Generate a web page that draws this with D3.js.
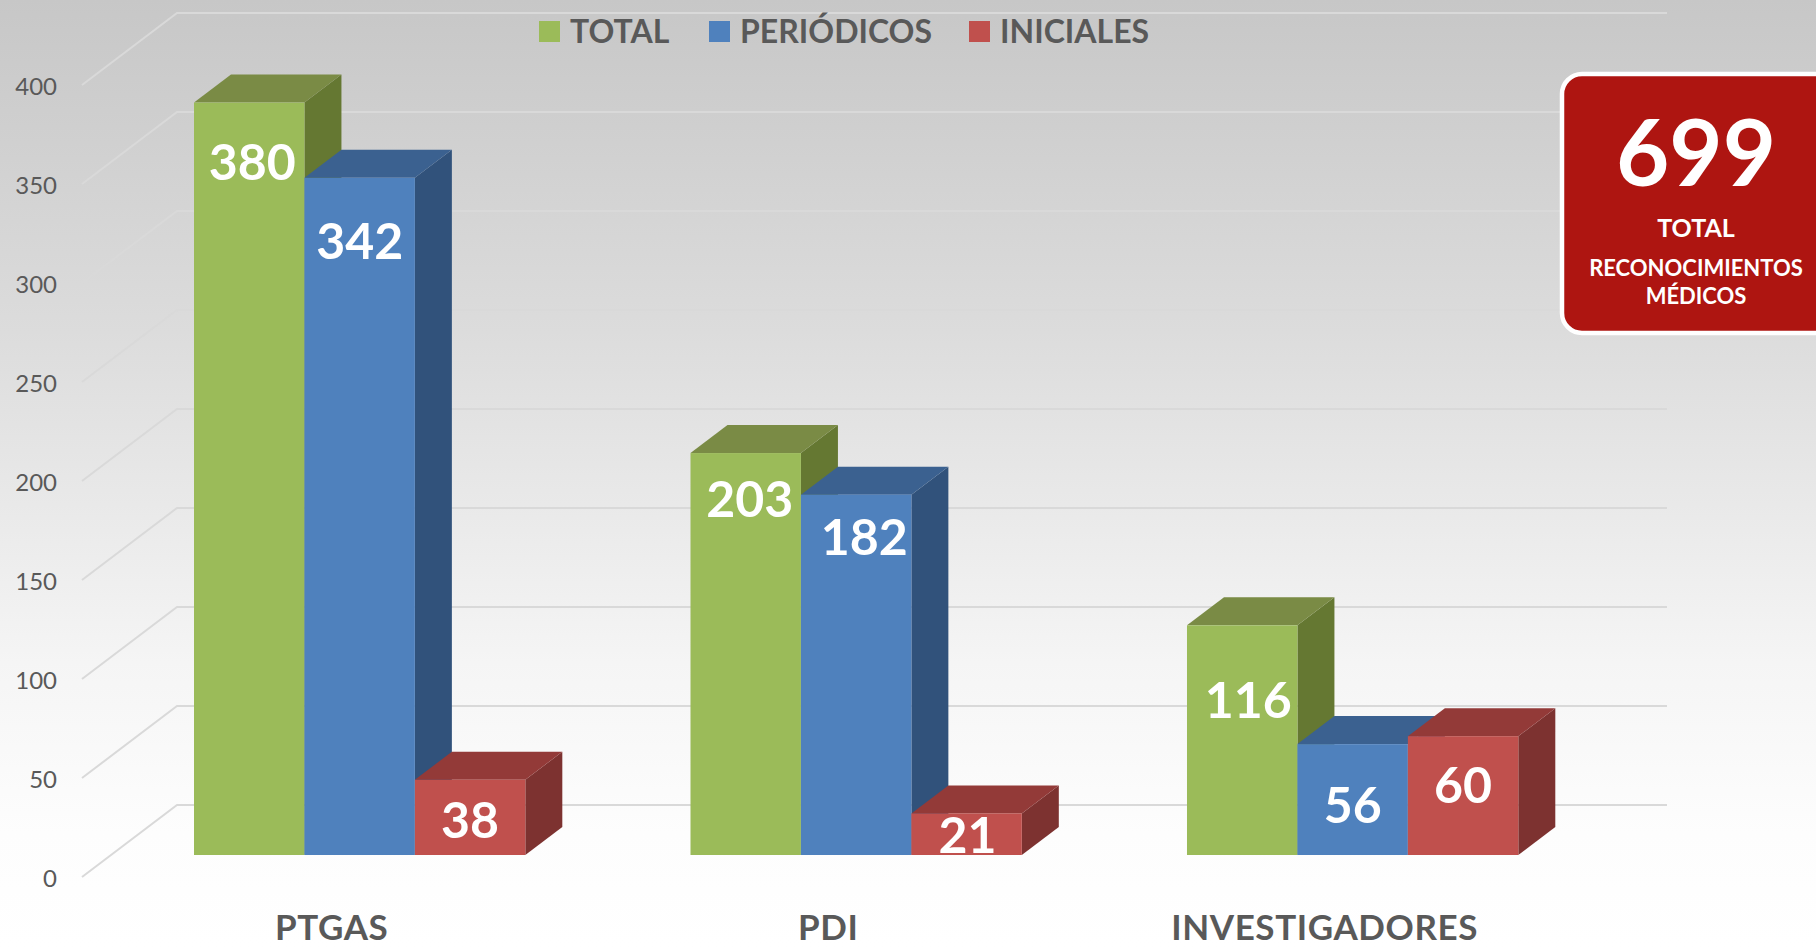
<!DOCTYPE html>
<html>
<head>
<meta charset="utf-8">
<script src="https://cdn.jsdelivr.net/npm/d3@7"></script>
<style>
    html, body { margin: 0; padding: 0; background: #fff; overflow: hidden; }
    text { font-family: Lato, sans-serif; }
</style>
</head>
<body>
<div id="chart"></div>
<script>
var categories = ["PTGAS", "PDI", "INVESTIGADORES"];
var seriesNames = ["TOTAL", "PERIÓDICOS", "INICIALES"];
var totalValues = [380, 203, 116];
var periodicosValues = [342, 182, 56];
var inicialesValues = [38, 21, 60];
var yTicks = [0, 50, 100, 150, 200, 250, 300, 350, 400];
var grandTotal = 699;

// label placement in the original is uneven, so it is nudged per bar
var labelDrop = [[60, 64, 41], [46, 43, 22], [75, 61, 49]];   // px below bar top
var labelShift = [[3, 0, 0], [4, 8, 1], [6, 0, 0]];           // px right of bar centre

var frontColors = ["#9bbb59", "#4f81bd", "#c0504d"];
var sideColors = ["#657832", "#31527b", "#7d3230"];
var topColors = ["#7a8b45", "#3b6190", "#933a38"];

var width = 1816, height = 947;
var depthX = 37, depthY = 28;

var svg = d3.select("#chart").append("svg")
    .attr("width", width)
    .attr("height", height)
    .style("display", "block");

// background
var grad = svg.append("defs").append("linearGradient")
    .attr("id", "bg")
    .attr("x1", 0).attr("y1", 0).attr("x2", 0).attr("y2", 1);
[[0, "#c7c7c7"], [0.35, "#dcdcdc"], [0.7, "#f5f5f5"], [0.88, "#fdfdfd"], [1, "#ffffff"]].forEach(function (s) {
    grad.append("stop").attr("offset", s[0]).attr("stop-color", s[1]);
});
svg.append("rect")
    .attr("width", width)
    .attr("height", height)
    .attr("fill", "url(#bg)");

// y is the front edge of the floor, where the axis labels sit
var y = d3.scaleLinear().domain([0, 400]).range([877, 85]);
var x0 = d3.scaleBand().domain(categories).range([194, 1518.3]).paddingInner(0.3327);
var x1 = d3.scaleBand().domain(seriesNames).range([0, x0.bandwidth()]);

var barDown = -22;  // bars stand 22px behind the floor front edge
var wallX = 177, wallRight = 1667, wallUp = 72, axisX = 82;

// gridlines
var grid = svg.append("g").attr("fill", "none").attr("stroke", "#d9d9d9").attr("stroke-width", 2);
grid.selectAll("polyline")
    .data(yTicks)
    .enter().append("polyline")
    .attr("points", function (d) {
        return [[axisX, y(d)], [wallX, y(d) - wallUp], [wallRight, y(d) - wallUp]].join(" ");
    });

// y axis
var axis = svg.append("g")
    .attr("transform", "translate(64,1.5)")
    .call(d3.axisLeft(y).tickValues(yTicks).tickSize(0).tickPadding(7));
axis.select(".domain").remove();
axis.selectAll("text")
    .attr("fill", "#595959")
    .style("font-family", "Lato, sans-serif")
    .style("font-size", "24px");

// bars
var rows = categories.map(function (c, i) {
    return {
        category: c,
        values: [totalValues[i], periodicosValues[i], inicialesValues[i]],
        drops: labelDrop[i],
        shifts: labelShift[i]
    };
});

var groups = svg.selectAll("g.group")
    .data(rows)
    .enter().append("g")
    .attr("class", "group")
    .attr("transform", function (d) {
        return "translate(" + x0(d.category) + ",0)";
    });

var bars = groups.selectAll("g.bar")
    .data(function (d) {
        return d.values.map(function (v, j) {
            return { value: v, index: j, name: seriesNames[j], drop: d.drops[j], shift: d.shifts[j] };
        });
    })
    .enter().append("g")
    .attr("class", "bar");

function barTop(d) { return y(d.value) + barDown; }
var base = y(0) + barDown;
var bw = x1.bandwidth();

// right side
bars.append("polygon")
    .attr("fill", function (d) { return sideColors[d.index]; })
    .attr("points", function (d) {
        var l = x1(d.name) + bw, t = barTop(d);
        return [[l, t], [l + depthX, t - depthY], [l + depthX, base - depthY], [l, base]].join(" ");
    });
// top
bars.append("polygon")
    .attr("fill", function (d) { return topColors[d.index]; })
    .attr("points", function (d) {
        var l = x1(d.name), t = barTop(d);
        return [[l, t], [l + depthX, t - depthY], [l + bw + depthX, t - depthY], [l + bw, t]].join(" ");
    });
// front
bars.append("rect")
    .attr("fill", function (d) { return frontColors[d.index]; })
    .attr("x", function (d) { return x1(d.name); })
    .attr("y", barTop)
    .attr("width", bw)
    .attr("height", function (d) { return base - barTop(d); });

// data labels
bars.append("text")
    .attr("x", function (d) { return x1(d.name) + bw / 2 + d.shift; })
    .attr("y", function (d) { return barTop(d) + d.drop; })
    .attr("dy", "0.35em")
    .attr("text-anchor", "middle")
    .attr("fill", "#fff")
    .attr("font-weight", "bold")
    .attr("font-size", 50)
    .text(function (d) { return d.value; });

// category labels
svg.selectAll("text.cat")
    .data(categories)
    .enter().append("text")
    .attr("class", "cat")
    .attr("x", function (d) { return x0(d) + x0.bandwidth() / 2 - 28; })
    .attr("y", 939.5)
    .attr("text-anchor", "middle")
    .attr("fill", "#595959")
    .attr("font-weight", "bold")
    .attr("font-size", 35)
    .attr("letter-spacing", 0.6)
    .text(function (d) { return d; });

// legend
var legendX = [539, 709, 969];
var legend = svg.selectAll("g.legend")
    .data(seriesNames)
    .enter().append("g")
    .attr("class", "legend")
    .attr("transform", function (d, i) { return "translate(" + legendX[i] + ",21)"; });
legend.append("rect")
    .attr("width", 21)
    .attr("height", 21)
    .attr("fill", function (d, i) { return frontColors[i]; });
legend.append("text")
    .attr("x", 31)
    .attr("y", 11)
    .attr("dy", "0.35em")
    .attr("fill", "#595959")
    .attr("font-weight", "bold")
    .attr("font-size", 32)
    .text(function (d) { return d; });

// total box
var box = svg.append("g");
box.append("rect")
    .attr("x", 1562)
    .attr("y", 74)
    .attr("width", 300)
    .attr("height", 259)
    .attr("rx", 20)
    .attr("fill", "#ae1511")
    .attr("stroke", "#fff")
    .attr("stroke-width", 4.5);
var boxLines = [
    { text: grandTotal, y: 154, size: 92 },
    { text: "TOTAL", y: 228, size: 25 },
    { text: "RECONOCIMIENTOS", y: 268, size: 22 },
    { text: "MÉDICOS", y: 296, size: 22 }
];
box.selectAll("text")
    .data(boxLines)
    .enter().append("text")
    .attr("x", 1696)
    .attr("y", function (d) { return d.y; })
    .attr("dy", "0.35em")
    .attr("text-anchor", "middle")
    .attr("fill", "#fff")
    .attr("font-weight", "bold")
    .attr("font-size", function (d) { return d.size; })
    .text(function (d) { return d.text; });
</script>
</body>
</html>
